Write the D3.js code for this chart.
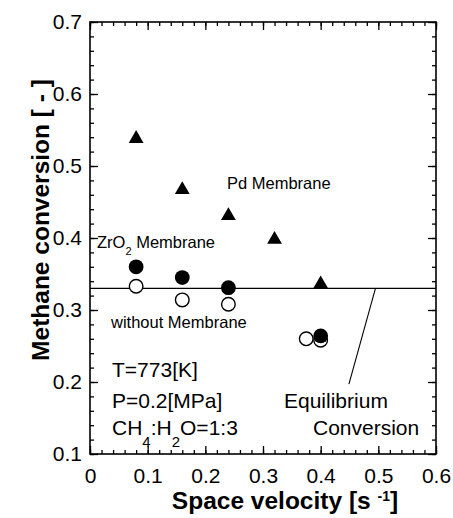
<!DOCTYPE html>
<html>
<head>
<meta charset="utf-8">
<script src="https://cdn.jsdelivr.net/npm/d3@7/dist/d3.min.js"></script>
<style>
  html, body { margin: 0; padding: 0; background: #fff; }
  svg { display: block; font-family: "Liberation Sans", Arial, sans-serif; }
</style>
</head>
<body>
<svg id="chart" width="453" height="518"></svg>
<script>
// Space velocity [1/s] for each run
const pdVelocity = [0.08, 0.16, 0.24, 0.32, 0.40];
const pdConversion = [0.538, 0.467, 0.431, 0.398, 0.336];

const zrVelocity = [0.08, 0.16, 0.24, 0.40];
const zrConversion = [0.360, 0.345, 0.331, 0.264];

const noMemVelocity = [0.08, 0.16, 0.24, 0.375, 0.40];
const noMemConversion = [0.333, 0.314, 0.308, 0.260, 0.258];

const equilibriumConversion = 0.330;

const xTicks = [0, 0.1, 0.2, 0.3, 0.4, 0.5, 0.6];
const xTickLabels = ["0", "0.1", "0.2", "0.3", "0.4", "0.5", "0.6"];
const yTicks = [0.1, 0.2, 0.3, 0.4, 0.5, 0.6, 0.7];
const yTickLabels = ["0.1", "0.2", "0.3", "0.4", "0.5", "0.6", "0.7"];

const svg = d3.select("#chart");
const x = d3.scaleLinear().domain([0, 0.6]).range([90, 436]);
const y = d3.scaleLinear().domain([0.1, 0.7]).range([454, 22]);

const minorX = d3.range(0, 0.6001, 0.02);
const minorY = d3.range(0.1, 0.7001, 0.02);

function styleAxis(g) {
  g.select(".domain").remove();
  g.selectAll(".tick line").attr("stroke", "#000").attr("stroke-width", 1.3);
  g.selectAll(".tick text").attr("fill", "#000")
    .style("font-family", "'Liberation Sans', Arial, sans-serif")
    .style("font-size", "21px");
}

// minor ticks (inward on all four sides)
svg.append("g").attr("transform", `translate(0,${y(0.1)})`)
  .call(d3.axisBottom(x).tickValues(minorX).tickFormat("").tickSizeInner(-4).tickSizeOuter(0)).call(styleAxis);
svg.append("g").attr("transform", `translate(0,${y(0.7)})`)
  .call(d3.axisTop(x).tickValues(minorX).tickFormat("").tickSizeInner(-4).tickSizeOuter(0)).call(styleAxis);
svg.append("g").attr("transform", `translate(${x(0)},0)`)
  .call(d3.axisLeft(y).tickValues(minorY).tickFormat("").tickSizeInner(-4).tickSizeOuter(0)).call(styleAxis);
svg.append("g").attr("transform", `translate(${x(0.6)},0)`)
  .call(d3.axisRight(y).tickValues(minorY).tickFormat("").tickSizeInner(-4).tickSizeOuter(0)).call(styleAxis);

// major ticks with labels
svg.append("g").attr("transform", `translate(0,${y(0.1)})`)
  .call(d3.axisBottom(x).tickValues(xTicks).tickFormat((d, i) => xTickLabels[i])
    .tickSizeInner(-8).tickSizeOuter(0).tickPadding(14)).call(styleAxis);
svg.append("g").attr("transform", `translate(0,${y(0.7)})`)
  .call(d3.axisTop(x).tickValues(xTicks).tickFormat("").tickSizeInner(-8).tickSizeOuter(0)).call(styleAxis);
svg.append("g").attr("transform", `translate(${x(0)},0)`)
  .call(d3.axisLeft(y).tickValues(yTicks).tickFormat((d, i) => yTickLabels[i])
    .tickSizeInner(-8).tickSizeOuter(0).tickPadding(8)).call(styleAxis);
svg.append("g").attr("transform", `translate(${x(0.6)},0)`)
  .call(d3.axisRight(y).tickValues(yTicks).tickFormat("").tickSizeInner(-8).tickSizeOuter(0)).call(styleAxis);

// plot frame
svg.append("rect")
  .attr("x", x(0)).attr("y", y(0.7))
  .attr("width", x(0.6) - x(0)).attr("height", y(0.1) - y(0.7))
  .attr("fill", "none").attr("stroke", "#000").attr("stroke-width", 1.6);

// equilibrium conversion line and its callout
svg.append("line")
  .attr("x1", x(0)).attr("x2", x(0.6))
  .attr("y1", y(equilibriumConversion)).attr("y2", y(equilibriumConversion))
  .attr("stroke", "#000").attr("stroke-width", 1.1);
svg.append("line")
  .attr("x1", x(0.495)).attr("y1", y(equilibriumConversion))
  .attr("x2", x(0.449)).attr("y2", y(0.197))
  .attr("stroke", "#000").attr("stroke-width", 1.1);

// without membrane: open circles
svg.append("g").selectAll("circle")
  .data(noMemVelocity.map((v, i) => [v, noMemConversion[i]]))
  .join("circle")
  .attr("cx", d => x(d[0])).attr("cy", d => y(d[1])).attr("r", 6.8)
  .attr("fill", "#fff").attr("stroke", "#000").attr("stroke-width", 1.4);

// ZrO2 membrane: filled circles
svg.append("g").selectAll("circle")
  .data(zrVelocity.map((v, i) => [v, zrConversion[i]]))
  .join("circle")
  .attr("cx", d => x(d[0])).attr("cy", d => y(d[1])).attr("r", 7.4)
  .attr("fill", "#000");

// Pd membrane: filled triangles
const tri = d3.symbol().type(d3.symbolTriangle).size(95);
svg.append("g").selectAll("path")
  .data(pdVelocity.map((v, i) => [v, pdConversion[i]]))
  .join("path")
  .attr("d", tri)
  .attr("transform", d => `translate(${x(d[0])},${y(d[1])})`)
  .attr("fill", "#000");

// annotations
const ann = svg.append("g").attr("fill", "#000");
ann.append("text").attr("x", 227).attr("y", 189)
  .style("font-size", "16.5px").text("Pd Membrane");

const zr = ann.append("text").attr("x", 97).attr("y", 248).style("font-size", "16.5px");
zr.append("tspan").text("ZrO");
zr.append("tspan").attr("dy", 7).style("font-size", "11px").text("2");
zr.append("tspan").attr("dy", -7).text(" Membrane");

ann.append("text").attr("x", 111).attr("y", 328)
  .style("font-size", "16.5px").text("without Membrane");

ann.append("text").attr("x", 112).attr("y", 377).style("font-size", "21px").text("T=773[K]");
ann.append("text").attr("x", 112).attr("y", 408).style("font-size", "21px").text("P=0.2[MPa]");
const cond = ann.append("text").attr("x", 112).attr("y", 435).style("font-size", "21px");
cond.append("tspan").text("CH");
cond.append("tspan").attr("dy", 12).style("font-size", "15px").text("4");
cond.append("tspan").attr("dy", -12).text(":H");
cond.append("tspan").attr("dy", 12).style("font-size", "15px").text("2");
cond.append("tspan").attr("dy", -12).text("O=1:3");

ann.append("text").attr("x", 284).attr("y", 408).style("font-size", "21px").text("Equilibrium");
ann.append("text").attr("x", 313).attr("y", 435).style("font-size", "21px").text("Conversion");

// axis titles
const xt = svg.append("text").attr("x", 285).attr("y", 509)
  .attr("text-anchor", "middle").style("font-size", "24.5px").style("font-weight", "bold");
xt.append("tspan").text("Space velocity [s ");
xt.append("tspan").attr("dy", -8).style("font-size", "14px").text("-1");
xt.append("tspan").attr("dy", 8).text("]");

svg.append("text")
  .attr("transform", "translate(49,220) rotate(-90)")
  .attr("text-anchor", "middle").style("font-size", "24.5px").style("font-weight", "bold")
  .text("Methane conversion [ - ]");
</script>
</body>
</html>
